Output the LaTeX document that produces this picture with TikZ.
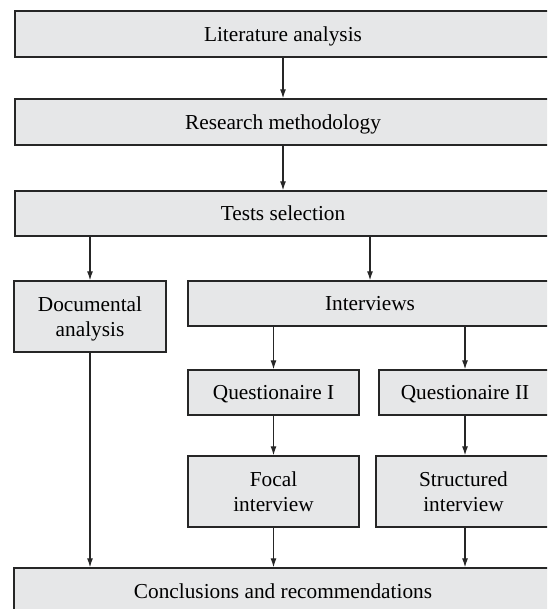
\documentclass[tikz,border=0pt]{standalone}
\usepackage{fontspec}
\setmainfont{Liberation Serif}
\usetikzlibrary{arrows.meta}
\definecolor{boxfill}{HTML}{E6E7E8}
\definecolor{linec}{HTML}{262626}
\begin{document}
\begin{tikzpicture}[x=1pt,y=-1pt,
  box/.style={draw=linec, line width=1.3pt, fill=boxfill, rectangle, inner sep=0pt,
    align=center, text depth=0pt, font=\fontsize{21.3}{25}\selectfont},
  arr/.style={draw=linec, line width=1.2pt, -{Latex[length=9pt,width=6pt]}}]
\useasboundingbox (0,0) rectangle (547,609);
\clip (0,0) rectangle (547,609);
\node[box, minimum width=536pt, minimum height=46pt] (lit) at (283,34) {Literature analysis};
\node[box, minimum width=536pt, minimum height=46pt] (res) at (283,122) {Research methodology};
\node[box, minimum width=536pt, minimum height=45pt] (tes) at (283,213.5) {Tests selection};
\node[box, minimum width=152pt, minimum height=71pt] (doc) at (90,316.5) {Documental\\analysis};
\node[box, minimum width=364pt, minimum height=45pt] (int) at (370,303.5) {Interviews};
\node[box, minimum width=171pt, minimum height=45pt] (q1) at (273.5,392.5) {Questionaire I};
\node[box, minimum width=172pt, minimum height=45pt] (q2) at (465,392.5) {Questionaire II};
\node[box, minimum width=171pt, minimum height=71pt] (foc) at (273.5,491.5) {Focal\\interview};
\node[box, minimum width=175pt, minimum height=71pt] (str) at (463.5,491.5) {Structured\\interview};
\node[box, minimum width=538pt, minimum height=46pt] (con) at (283,591) {Conclusions and recommendations};
\draw[arr] (lit.south) -- (res.north);
\draw[arr] (res.south) -- (tes.north);
\draw[arr] (tes.south -| doc.north) -- (doc.north);
\draw[arr] (tes.south -| int.north) -- (int.north);
\draw[arr] (int.south -| q1.north) -- (q1.north);
\draw[arr] (int.south -| q2.north) -- (q2.north);
\draw[arr] (q1.south) -- (foc.north);
\draw[arr] (q2.south) -- (q2.south |- str.north);
\draw[arr] (doc.south) -- (con.north -| doc.south);
\draw[arr] (foc.south) -- (con.north -| foc.south);
\draw[arr] (q2.south |- str.south) -- (q2.south |- con.north);
\end{tikzpicture}
\end{document}
